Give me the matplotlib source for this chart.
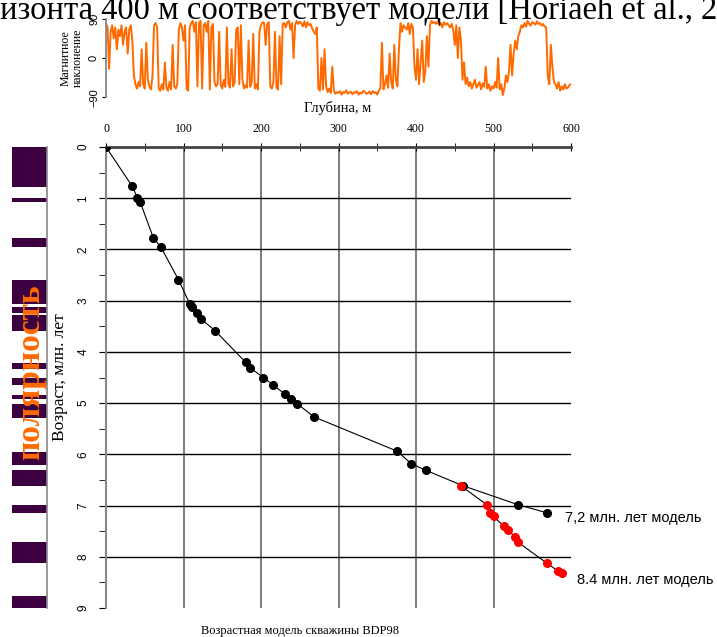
import numpy as np
import matplotlib.pyplot as plt

plt.rcParams['font.family'] = ['Liberation Serif', 'DejaVu Serif']

# magnetic inclination along the core, one value every 2 m (0..600 m)
depth_step = 2
incl = [80, 70, -25, 60, 75, 45, 70, 20, 65, 50,
        75, 30, 60, 70, 10, 65, 75, 40, -40, -60,
        -70, -55, -65, 20, -60, -70, 35, -50, -65, -72,
        -40, 75, 80, 70, -70, -75, -60, -72, -10, -68,
        -75, -55, -72, 30, -65, -70, -60, 65, 80, 70,
        40, 75, -70, -75, 70, 80, 85, 60, 82, -65,
        80, 85, -70, 75, 80, 60, 85, -72, 70, 78,
        -55, -65, -60, 60, -62, -70, -50, -66, 70, -60,
        -68, 20, -65, -55, 65, 70, -60, 75, -50, -70,
        -62, -68, 40, -66, -55, 55, -70, -60, -72, 60,
        75, 82, 80, 30, 78, 82, -65, -70, -55, 60,
        -68, -72, 50, -60, 78, 80, 70, 82, 85, 65,
        80, 0, 75, 85, 78, 83, 80, 72, 84, 70,
        82, 75, 78, 68, 60, 55, 70, -70, -75, 0,
        -72, 20, -65, -78, -70, -80, -20, -75, -82, -78,
        -80, -76, -84, -78, -80, -74, -82, -79, -77, -83,
        -78, -80, -76, -84, -79, -81, -75, -78, -82, -80,
        -77, -83, -76, -80, -78, -84, -75, -70, 35, -72,
        -60, -40, -68, 10, -55, -70, 30, -50, -65, 20,
        80, 60, 75, 70, 65, 80, 55, 78, 70, -20,
        -50, 20, -60, -10, 40, -55, -30, 50, -20, 75,
        85, 80, 82, 78, 84, 75, 80, 70, 82, 76,
        80, 75, 70, 78, 65, 30, 75, 0, 70, 40,
        -50, -10, -60, -45, -65, -55, -70, -60, -50, -68,
        -62, -55, -72, -58, -66, -20, -70, -60, -75, -65,
        -70, -55, -68, 0, -72, -60, -85, -70, -40, -55,
        -30, 30, -40, 10, 40, 20, 50, 60, 75, 70,
        80, 72, 85, 78, 74, 82, 80, 76, 84, 78,
        80, 74, 78, 72, 70, -40, -60, 30, -20, -55,
        -60, -70, -55, -75, -65, -72, -60, -70, -68, -62,
        -60]
incl_depth = np.arange(len(incl)) * depth_step

# normal polarity intervals, Ma
pol_top = [0.0, 0.99, 1.77, 2.60, 3.12, 3.28, 4.22, 4.50, 4.84, 5.01, 5.95, 6.31, 6.99, 7.72, 8.77]
pol_bot = [0.79, 1.07, 1.95, 3.07, 3.25, 3.60, 4.34, 4.65, 4.92, 5.29, 6.20, 6.62, 7.14, 8.13, 9.0]

# age model 7.2 Ma (black)
depth_72 = [0, 34, 40.5, 44, 61, 71, 93.5, 108, 111.5, 117, 122, 141, 180, 186,
            203, 216, 230.5, 239, 246.5, 268.5, 376, 393.5, 412.5, 460, 531, 568.5]
age_72 = [0, 0.77, 0.99, 1.07, 1.77, 1.96, 2.59, 3.06, 3.12, 3.24, 3.35, 3.59, 4.20, 4.31,
          4.50, 4.65, 4.82, 4.92, 5.01, 5.27, 5.94, 6.18, 6.31, 6.61, 6.98, 7.14]

# age model 8.4 Ma (red)
depth_84 = [457.5, 491, 495.5, 500, 513, 519, 527.5, 531, 568.5, 583.5, 588.5]
age_84 = [6.61, 6.98, 7.14, 7.21, 7.40, 7.48, 7.61, 7.71, 8.12, 8.28, 8.31]

W, H = 717, 637
fig = plt.figure(figsize=(W / 100, H / 100), dpi=100)

# cut-off line of document text at the very top
fig.text(0.0, 1 - 19 / H, 'изонта 400 м соответствует модели [Horiaeh et al., 20',
         fontsize=23.5, va='baseline', ha='left')

# inclination strip
ax1 = fig.add_axes([106 / W, 1 - 97.3 / H, 465 / W, 78.6 / H])
ax1.plot(incl_depth, incl, color='#ff6a00', lw=1.4)
ax1.set_xlim(0, 600)
ax1.set_ylim(-90, 90)
ax1.set_yticks([-90, 0, 90])
ax1.set_xticks([])
for s in ['top', 'right', 'bottom']:
    ax1.spines[s].set_visible(False)
ax1.spines['left'].set_color('#888888')
ax1.spines['left'].set_linewidth(1.3)
ax1.tick_params(axis='y', length=3, labelsize=8, labelrotation=90, pad=2)
for lab in ax1.get_yticklabels():
    lab.set_family('Liberation Sans')
    lab.set_va('center')
ax1.set_ylabel('Магнитное\nнаклонение', fontsize=8.5, labelpad=4, linespacing=1.0)
fig.text(338 / W, 1 - 108 / H, 'Глубина, м', fontsize=10.5, ha='center', va='center')

# polarity column
ax2 = fig.add_axes([12 / W, 1 - 608 / H, 35 / W, 461 / H])
ax2.barh(pol_top, 1, height=np.array(pol_bot) - np.array(pol_top), align='edge',
         color='#3c0040', edgecolor='none')
ax2.set_ylim(9, 0)
ax2.set_xlim(0, 1)
ax2.set_xticks([])
ax2.set_yticks([])
for s in ['top', 'left', 'bottom']:
    ax2.spines[s].set_visible(False)
ax2.spines['right'].set_color('#888888')
ax2.spines['right'].set_linewidth(1.2)
fig.text(31 / W, 1 - 372 / H, 'полярность', color='#ff6a00', fontsize=24,
         fontweight='bold', rotation=90, ha='center', va='center')

# age model
ax = fig.add_axes([106 / W, 1 - 608 / H, 465 / W, 461 / H])
ax.plot(depth_72, age_72, color='black', lw=0.8, marker='o', ms=5.5, zorder=3)
ax.plot(depth_84, age_84, color='black', lw=0.8, marker='o', ms=5.5,
        mfc='#ff0000', mec='#ff0000', zorder=4)
ax.set_xlim(0, 600)
ax.set_ylim(9, 0)
ax.xaxis.tick_top()
ax.set_xticks(range(0, 601, 100))
ax.set_xticks(range(50, 600, 100), minor=True)
ax.set_yticks(range(0, 10))
ax.set_yticks(np.arange(0.5, 9, 1), minor=True)
for v in range(100, 600, 100):
    ax.axvline(v, color='#666666', lw=1.2, zorder=1)
for v in range(1, 9):
    ax.axhline(v, color='black', lw=1.0, zorder=1)
for s in ['right', 'bottom']:
    ax.spines[s].set_visible(False)
ax.spines['top'].set_color('#444444')
ax.spines['top'].set_linewidth(2)
ax.spines['left'].set_color('#888888')
ax.spines['left'].set_linewidth(1.5)
ax.tick_params(axis='x', which='both', direction='inout', length=6, labelsize=8.5, pad=6)
ax.tick_params(axis='y', which='both', direction='out', length=5, labelsize=8.5,
               labelrotation=90, pad=7)
for lab in ax.get_yticklabels():
    lab.set_family('Liberation Sans')
    lab.set_va('center')
ax.set_ylabel('Возраст, млн. лет', fontsize=12.5, labelpad=7)

ax.text(592, 7.25, '7,2 млн. лет модель', family='Liberation Sans', fontsize=10.5,
        va='center', ha='left', clip_on=False)
ax.text(608, 8.46, '8.4 млн. лет модель', family='Liberation Sans', fontsize=10.5,
        va='center', ha='left', clip_on=False)

fig.text(300 / W, 1 - 631 / H, 'Возрастная модель скважины BDP98', fontsize=9,
         ha='center', va='center')

fig.savefig('out.png', dpi=100)
